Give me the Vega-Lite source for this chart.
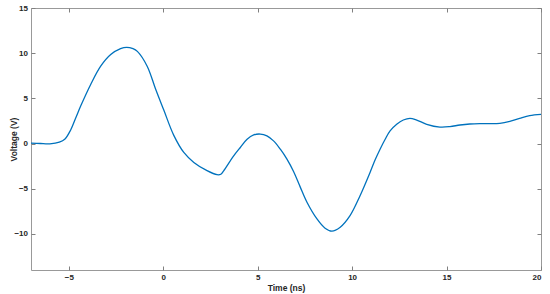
{
  "$schema": "https://vega.github.io/schema/vega-lite/v6.json",
  "autosize": {"type": "none"},
  "padding": {"left": 31, "top": 8, "right": 9, "bottom": 24},
  "width": 510,
  "height": 262,
  "background": "white",
  "config": {
    "view": {"stroke": "#999999", "strokeWidth": 1},
    "axis": {
      "grid": false,
      "domain": false,
      "ticks": true,
      "tickColor": "#808080",
      "tickSize": 4,
      "tickWidth": 1,
      "labelFont": "Liberation Sans",
      "labelFontSize": 8,
      "labelFontWeight": "bold",
      "labelColor": "#262626",
      "titleFont": "Liberation Sans",
      "titleFontSize": 8.5,
      "titleFontWeight": "bold",
      "titleColor": "#262626"
    }
  },
  "data": {"values": [
    {"t": -7, "v": 0.05}, {"t": -6.5, "v": 0.0}, {"t": -6.0, "v": -0.03}, {"t": -5.5, "v": 0.15},
    {"t": -5.2, "v": 0.5}, {"t": -4.9, "v": 1.5}, {"t": -4.6, "v": 3.0}, {"t": -4.37, "v": 4.15},
    {"t": -3.84, "v": 6.54}, {"t": -3.31, "v": 8.56}, {"t": -2.78, "v": 9.85}, {"t": -2.26, "v": 10.5},
    {"t": -1.94, "v": 10.65}, {"t": -1.6, "v": 10.5}, {"t": -1.37, "v": 10.2}, {"t": -0.85, "v": 8.56},
    {"t": -0.4, "v": 6.0}, {"t": 0.03, "v": 3.7}, {"t": 0.56, "v": 0.9}, {"t": 1.09, "v": -0.99},
    {"t": 1.62, "v": -2.09}, {"t": 2.32, "v": -3.0}, {"t": 2.85, "v": -3.45}, {"t": 3.05, "v": -3.4},
    {"t": 3.2, "v": -3.02}, {"t": 3.73, "v": -1.37}, {"t": 4.08, "v": -0.44}, {"t": 4.44, "v": 0.47},
    {"t": 4.79, "v": 0.95}, {"t": 5.14, "v": 1.05}, {"t": 5.49, "v": 0.84}, {"t": 5.84, "v": 0.29},
    {"t": 6.2, "v": -0.63}, {"t": 6.55, "v": -1.73}, {"t": 6.9, "v": -3.1}, {"t": 7.25, "v": -4.8},
    {"t": 7.61, "v": -6.5}, {"t": 8.14, "v": -8.35}, {"t": 8.57, "v": -9.37},
    {"t": 8.93, "v": -9.7}, {"t": 9.37, "v": -9.26}, {"t": 9.89, "v": -7.98}, {"t": 10.42, "v": -5.78},
    {"t": 10.95, "v": -3.2}, {"t": 11.22, "v": -1.8}, {"t": 11.48, "v": -0.63}, {"t": 11.75, "v": 0.47},
    {"t": 12.01, "v": 1.39}, {"t": 12.36, "v": 2.13}, {"t": 12.71, "v": 2.6},
    {"t": 13.06, "v": 2.79}, {"t": 13.42, "v": 2.6}, {"t": 13.95, "v": 2.13}, {"t": 14.65, "v": 1.82},
    {"t": 15.18, "v": 1.87}, {"t": 15.71, "v": 2.05}, {"t": 16.23, "v": 2.16}, {"t": 16.76, "v": 2.2},
    {"t": 17.29, "v": 2.2}, {"t": 17.82, "v": 2.24}, {"t": 18.35, "v": 2.46}, {"t": 18.87, "v": 2.79},
    {"t": 19.4, "v": 3.09}, {"t": 20, "v": 3.23}
  ]},
  "layer": [
    {
      "mark": {"type": "line", "color": "#0072BD", "strokeWidth": 1.3, "interpolate": "catmull-rom"},
      "encoding": {
        "x": {"field": "t", "type": "quantitative", "scale": {"domain": [-7, 20], "nice": false, "zero": false},
              "axis": {"title": "Time (ns)", "values": [-5, 0, 5, 10, 15, 20], "offset": -4, "labelPadding": 3.5, "titlePadding": 2}},
        "y": {"field": "v", "type": "quantitative", "scale": {"domain": [-14, 15], "nice": false, "zero": false},
              "axis": {"title": "Voltage (V)", "values": [-10, -5, 0, 5, 10, 15], "offset": -4, "labelPadding": 3.5, "titlePadding": -5}}
      }
    },
    {
      "mark": {"type": "line", "strokeOpacity": 0, "interpolate": "catmull-rom"},
      "encoding": {
        "x": {"field": "t", "type": "quantitative",
              "axis": {"orient": "top", "title": null, "labels": false, "offset": -4, "values": [-5, 0, 5, 10, 15, 20]}},
        "y": {"field": "v", "type": "quantitative",
              "axis": {"orient": "right", "title": null, "labels": false, "offset": -4, "values": [-10, -5, 0, 5, 10, 15]}}
      }
    }
  ],
  "resolve": {"axis": {"x": "independent", "y": "independent"}}
}
